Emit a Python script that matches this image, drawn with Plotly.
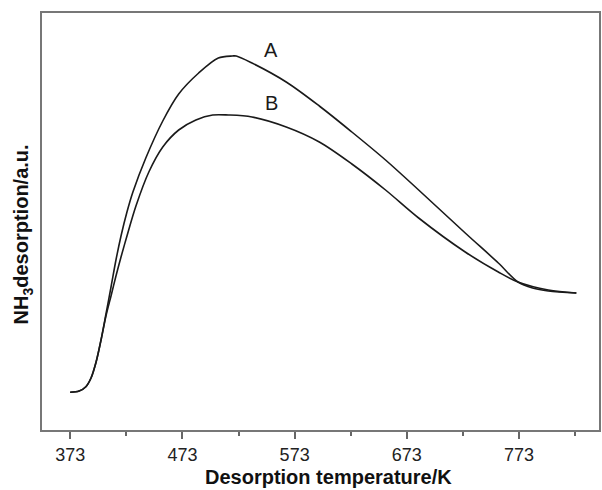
import plotly.graph_objects as go

# Temperatures (K) and NH3 desorption signal (arbitrary units)
temp_A = [373, 381, 387, 391.6, 396.1, 400.5, 404.9, 409.4, 413.8, 418.3, 423.6, 428.9, 440.4, 455.5, 469.7, 487.5, 505, 517.5, 521, 535, 565.5, 595, 624, 654, 683.5, 725, 754.5, 772, 785, 799, 824]
sig_A = [37.7, 39, 43.3, 52, 68, 90, 116, 143, 170, 194, 218, 238, 272, 309, 336, 357, 372, 374, 374, 367, 348, 324, 298, 270, 240, 197, 167, 148, 142, 139, 137]

temp_B = [373, 381, 387, 391.6, 396.1, 400.5, 404.9, 409.4, 413.8, 418.3, 423.6, 431.6, 443.1, 455.5, 469.7, 485, 500, 514, 535, 565.5, 595, 624, 654, 683.5, 725, 754.5, 772, 799, 824]
sig_B = [37.7, 39, 43.3, 52, 68, 90, 114, 134, 154, 173, 194, 224, 258, 283, 300, 310, 315, 315, 313, 303, 288, 266, 240, 212, 178, 158, 148, 140, 137]

major_ticks = [373, 473, 573, 673, 773]
minor_ticks = [423, 523, 623, 723, 823]
series_labels = ["A", "B"]

FONT = "Liberation Sans, Arial, Helvetica, sans-serif"

fig = go.Figure()
for t, s, name in [(temp_A, sig_A, "A"), (temp_B, sig_B, "B")]:
    fig.add_trace(go.Scatter(x=t, y=s, mode="lines", name=name,
                             line=dict(color="#1a1a1a", width=1.6, shape="spline", smoothing=0.9),
                             showlegend=False))

fig.add_annotation(x=552, y=380, text=series_labels[0], showarrow=False,
                   font=dict(family=FONT, size=20, color="#1a1a1a"))
fig.add_annotation(x=552, y=327, text=series_labels[1], showarrow=False,
                   font=dict(family=FONT, size=20, color="#1a1a1a"))

fig.add_annotation(xref="paper", yref="paper", x=0.514, y=-0.1127,
                   text="<b>Desorption temperature/K</b>", showarrow=False,
                   font=dict(family=FONT, size=20, color="#111"),
                   xanchor="center", yanchor="middle")
fig.add_annotation(xref="paper", yref="paper", x=-0.0352, y=0.47,
                   text="<b>NH<sub>3</sub>desorption/a.u.</b>", showarrow=False,
                   textangle=-90,
                   font=dict(family=FONT, size=20, color="#111"),
                   xanchor="center", yanchor="middle")

fig.update_layout(
    width=602, height=490,
    margin=dict(l=42, r=1, t=13, b=60),
    paper_bgcolor="white", plot_bgcolor="white",
    font=dict(family=FONT, size=18, color="#222"),
)
fig.update_xaxes(range=[347.9, 844.2], tickvals=major_ticks,
                 ticktext=[str(v) for v in major_ticks],
                 ticks="outside", ticklen=7, tickwidth=1.5, tickcolor="#666",
                 minor=dict(tickvals=minor_ticks, ticks="outside", ticklen=4,
                            tickwidth=1.5, tickcolor="#666"),
                 showline=True, linecolor="#777", linewidth=1.8, mirror=True,
                 showgrid=False, zeroline=False,
                 tickfont=dict(family=FONT, size=18, color="#222"))
fig.update_yaxes(range=[0, 417], showticklabels=False, ticks="",
                 showline=True, linecolor="#777", linewidth=1.8, mirror=True,
                 showgrid=False, zeroline=False)

fig.write_html("out.html")
